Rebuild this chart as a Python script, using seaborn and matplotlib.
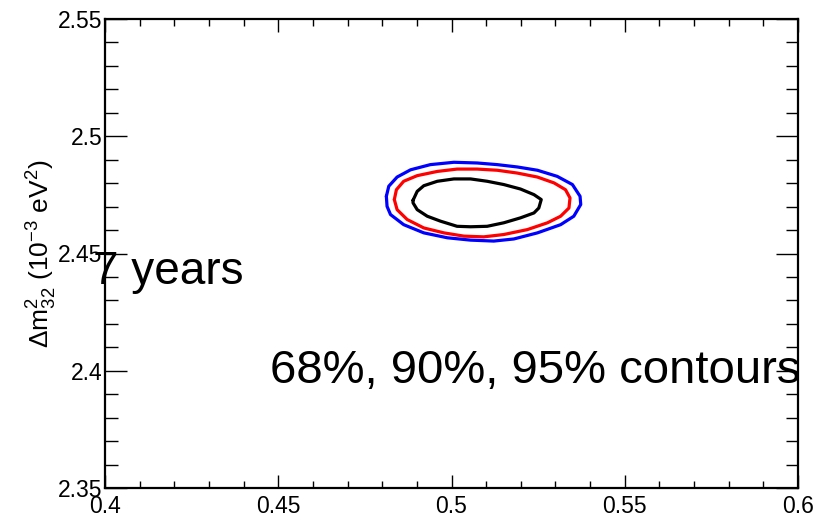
import matplotlib
matplotlib.use("Agg")
import matplotlib.pyplot as plt
from matplotlib.ticker import MultipleLocator
import seaborn as sns
import pandas as pd

# ---- data ----
levels = ["68%", "90%", "95%"]
colors = ["#000000", "#ff0000", "#0000ff"]

x68 = [0.4889, 0.4901, 0.4920, 0.4959, 0.5007, 0.5055, 0.5103, 0.5151, 0.5199, 0.5238, 0.5259,
       0.5252, 0.5238, 0.5199, 0.5151, 0.5103, 0.5055, 0.5016, 0.4968, 0.4930, 0.4901, 0.4889]
y68 = [2.4727, 2.4765, 2.4789, 2.4808, 2.4818, 2.4818, 2.4808, 2.4794, 2.4775, 2.4751, 2.4730,
       2.4694, 2.4673, 2.4652, 2.4631, 2.4616, 2.4614, 2.4616, 2.4638, 2.4659, 2.4687, 2.4716]

x90 = [0.4835, 0.4841, 0.4862, 0.4901, 0.4959, 0.5016, 0.5074, 0.5132, 0.5190, 0.5248, 0.5296, 0.5329,
       0.5342, 0.5339, 0.5315, 0.5277, 0.5219, 0.5151, 0.5093, 0.5036, 0.4978, 0.4920, 0.4872, 0.4843]
y90 = [2.4730, 2.4772, 2.4808, 2.4832, 2.4850, 2.4860, 2.4860, 2.4855, 2.4843, 2.4826, 2.4801, 2.4772,
       2.4737, 2.4694, 2.4659, 2.4631, 2.4602, 2.4581, 2.4571, 2.4574, 2.4588, 2.4609, 2.4645, 2.4687]

x95 = [0.4812, 0.4819, 0.4843, 0.4882, 0.4939, 0.5007, 0.5074, 0.5132, 0.5190, 0.5248, 0.5305, 0.5349,
       0.5371, 0.5373, 0.5353, 0.5315, 0.5248, 0.5180, 0.5122, 0.5055, 0.4988, 0.4920, 0.4862, 0.4824, 0.4814]
y95 = [2.4744, 2.4787, 2.4826, 2.4857, 2.4879, 2.4889, 2.4886, 2.4879, 2.4869, 2.4855, 2.4829, 2.4794,
       2.4744, 2.4709, 2.4659, 2.4623, 2.4588, 2.4562, 2.4553, 2.4557, 2.4567, 2.4588, 2.4623, 2.4666, 2.4701]

x_ticks = [0.4, 0.45, 0.5, 0.55, 0.6]
y_ticks = [2.35, 2.4, 2.45, 2.5, 2.55]
x_labels = ["0.4", "0.45", "0.5", "0.55", "0.6"]
y_labels = ["2.35", "2.4", "2.45", "2.5", "2.55"]

text_years = "7 years"
text_contours = "68%, 90%, 95% contours"
ylabel = r"$\Delta$m$^{2}_{32}$ (10$^{-3}$ eV$^{2}$)"

# ---- build table (closed curves) ----
rows = []
for lev, xs, ys in zip(levels, [x68, x90, x95], [y68, y90, y95]):
    xs_c = list(xs) + [xs[0]]
    ys_c = list(ys) + [ys[0]]
    for a, b in zip(xs_c, ys_c):
        rows.append({"level": lev, "x": a, "y": b})
df = pd.DataFrame(rows)

sns.set_style("ticks")
plt.rcParams["font.family"] = ["Liberation Sans", "DejaVu Sans"]
plt.rcParams["mathtext.fontset"] = "custom"
plt.rcParams["mathtext.rm"] = "Liberation Sans"
plt.rcParams["mathtext.it"] = "Liberation Sans:italic"
plt.rcParams["mathtext.bf"] = "Liberation Sans:bold"
for k in ["text.color", "axes.labelcolor", "xtick.color", "ytick.color", "axes.edgecolor"]:
    plt.rcParams[k] = "black"

fig = plt.figure(figsize=(8.16, 5.14), dpi=100)
ax = fig.add_axes([105 / 816, 26 / 514, 693 / 816, 469 / 514])

sns.lineplot(data=df, x="x", y="y", hue="level", hue_order=levels,
             palette=dict(zip(levels, colors)), sort=False, estimator=None,
             linewidth=2.3, legend=False, ax=ax)

ax.set_xlim(0.4, 0.6)
ax.set_ylim(2.35, 2.55)
ax.set_xticks(x_ticks)
ax.set_xticklabels(x_labels)
ax.set_yticks(y_ticks)
ax.set_yticklabels(y_labels)
ax.xaxis.set_minor_locator(MultipleLocator(0.01))
ax.yaxis.set_minor_locator(MultipleLocator(0.01))

ax.tick_params(axis="both", which="both", direction="in", top=True, right=True,
               labelsize=16.5, width=1.0, color="black", labelcolor="black")
ax.tick_params(axis="x", which="major", length=9.5, pad=5)
ax.tick_params(axis="x", which="minor", length=5)
ax.tick_params(axis="y", which="major", length=16, pad=2)
ax.tick_params(axis="y", which="minor", length=9)
for s in ax.spines.values():
    s.set_linewidth(1.6)
    s.set_color("black")

ax.set_xlabel("")
ax.set_ylabel(ylabel, fontsize=19)
ax.yaxis.set_label_coords(-0.067, 0.5)

fig.text(93 / 816, (514 - 284) / 514, text_years, fontsize=33, ha="left", va="baseline", color="black")
fig.text(270 / 816, (514 - 383) / 514, text_contours, fontsize=34, ha="left", va="baseline", color="black")

fig.savefig("out.png", dpi=100)
